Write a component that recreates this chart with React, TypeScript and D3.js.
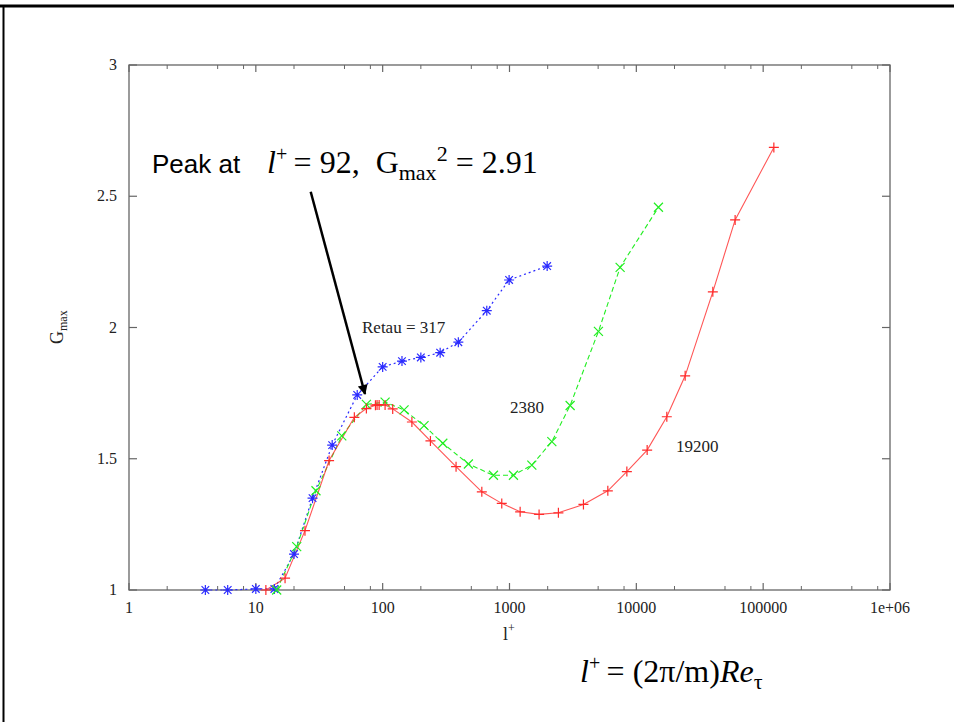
import React from "react";
import * as d3 from "d3";

// ---- data ----
const blueX = [4, 6, 10, 14, 20, 28, 40, 63, 100, 142, 200, 284, 395, 662, 993, 1981];
const blueG = [1.0, 1.0, 1.004, 1.004, 1.137, 1.35, 1.552, 1.743, 1.85, 1.872, 1.886, 1.904, 1.944, 2.064, 2.181, 2.234];

const greenX = [14.6, 21, 29.8, 47.6, 74.4, 104.5, 147.5, 212, 298, 474, 747, 1074, 1500, 2157, 3006, 5025, 7450, 14940];
const greenG = [1.0, 1.165, 1.378, 1.587, 1.707, 1.716, 1.686, 1.626, 1.559, 1.48, 1.437, 1.437, 1.476, 1.565, 1.703, 1.985, 2.229, 2.458];

const redX = [12, 17, 24.4, 37.8, 59.8, 74.4, 87.7, 90.3, 93.8, 104.5, 120, 170, 238, 379, 605, 869, 1213, 1711, 2430, 3828, 5960, 8420, 12170, 17390, 24260, 40100, 60100, 121400];
const redG = [1.0, 1.045, 1.226, 1.493, 1.658, 1.691, 1.704, 1.705, 1.705, 1.705, 1.69, 1.64, 1.568, 1.47, 1.374, 1.33, 1.298, 1.288, 1.294, 1.326, 1.378, 1.451, 1.533, 1.66, 1.816, 2.136, 2.41, 2.686];

const xTickValues = [1, 10, 100, 1000, 10000, 100000, 1000000];
const xTickLabels = ["1", "10", "100", "1000", "10000", "100000", "1e+06"];
const xMinorMult = [2, 5, 8];
const yTickValues = [1, 1.5, 2, 2.5, 3];
const yTickLabels = ["1", "1.5", "2", "2.5", "3"];

const seriesLabels = ["Retau = 317", "2380", "19200"];

const W = 954;
const H = 722;
const L = 129, R = 890, T = 65, B = 590;

const xs = d3.scaleLog().domain([1, 1e6]).range([L, R]);
const ys = d3.scaleLinear().domain([1, 3]).range([B, T]);

const serif = "Liberation Serif";
const sans = "Liberation Sans";

function toPts(xv: number[], yv: number[]) {
  return xv.map((x, i) => [xs(x), ys(yv[i])] as [number, number]);
}

const lineGen = d3.line<[number, number]>().x((d) => d[0]).y((d) => d[1]);

function Plus({ x, y, c }: { x: number; y: number; c: string }) {
  const s = 5;
  return <path d={`M${x - s},${y}H${x + s}M${x},${y - s}V${y + s}`} stroke={c} strokeWidth={1.2} />;
}
function Cross({ x, y, c }: { x: number; y: number; c: string }) {
  const s = 4.5;
  return <path d={`M${x - s},${y - s}L${x + s},${y + s}M${x - s},${y + s}L${x + s},${y - s}`} stroke={c} strokeWidth={1.2} />;
}
function Star({ x, y, c }: { x: number; y: number; c: string }) {
  const s = 5, d = 3.8;
  return (
    <path
      d={`M${x - s},${y}H${x + s}M${x},${y - s}V${y + s}M${x - d},${y - d}L${x + d},${y + d}M${x - d},${y + d}L${x + d},${y - d}`}
      stroke={c}
      strokeWidth={1.2}
    />
  );
}

export default function App() {
  const blue = toPts(blueX, blueG);
  const green = toPts(greenX, greenG);
  const red = toPts(redX, redG);

  const minorTicks: number[] = [];
  for (let e = 0; e < 6; e++) for (const m of xMinorMult) minorTicks.push(m * Math.pow(10, e));

  const frame = "#666";
  const blueC = "#2a2aff";
  const greenC = "#22ee22";
  const redC = "#ff2a2a";

  return (
    <svg width={W} height={H} style={{ position: "absolute", left: 0, top: 0, background: "#fff" }}>
      {/* slide border */}
      <line x1={0} x2={W} y1={6} y2={6} stroke="#000" strokeWidth={3} />
      <line x1={3.5} x2={3.5} y1={5} y2={H} stroke="#000" strokeWidth={2} />

      {/* frame */}
      <rect x={L} y={T} width={R - L} height={B - T} fill="none" stroke={frame} strokeWidth={1.3} />

      {/* x ticks */}
      {xTickValues.map((v, i) => (
        <g key={"xt" + i}>
          <line x1={xs(v)} x2={xs(v)} y1={B} y2={B - 7} stroke={frame} strokeWidth={1.2} />
          <line x1={xs(v)} x2={xs(v)} y1={T} y2={T + 7} stroke={frame} strokeWidth={1.2} />
          <text x={xs(v)} y={613} textAnchor="middle" fontFamily={serif} fontSize={16} fill="#222">
            {xTickLabels[i]}
          </text>
        </g>
      ))}
      {minorTicks.map((v, i) => (
        <g key={"xm" + i}>
          <line x1={xs(v)} x2={xs(v)} y1={B} y2={B - 4} stroke={frame} strokeWidth={1} />
          <line x1={xs(v)} x2={xs(v)} y1={T} y2={T + 4} stroke={frame} strokeWidth={1} />
        </g>
      ))}

      {/* y ticks */}
      {yTickValues.map((v, i) => (
        <g key={"yt" + i}>
          <line x1={L} x2={L + 8} y1={ys(v)} y2={ys(v)} stroke={frame} strokeWidth={1.2} />
          <line x1={R} x2={R - 8} y1={ys(v)} y2={ys(v)} stroke={frame} strokeWidth={1.2} />
          <text x={117} y={ys(v) + 5} textAnchor="end" fontFamily={serif} fontSize={16} fill="#222">
            {yTickLabels[i]}
          </text>
        </g>
      ))}

      {/* axis labels */}
      <text x={503} y={640} fontFamily={serif} fontSize={18} fill="#222">
        l<tspan dy={-8} fontSize={12}>+</tspan>
      </text>
      <text transform="translate(63,344) rotate(-90)" fontFamily={serif} fontSize={18} fill="#222">
        G<tspan dy={4} fontSize={12}>max</tspan>
      </text>

      {/* series lines */}
      <path d={lineGen(blue) || ""} fill="none" stroke={blueC} strokeWidth={1.2} strokeDasharray="2,3" />
      <path d={lineGen(green) || ""} fill="none" stroke={greenC} strokeWidth={1.1} strokeDasharray="5,3" />
      <path d={lineGen(red) || ""} fill="none" stroke={redC} strokeWidth={1.1} opacity={0.8} />

      {blue.map((p, i) => <Star key={"b" + i} x={p[0]} y={p[1]} c={blueC} />)}
      {green.map((p, i) => <Cross key={"g" + i} x={p[0]} y={p[1]} c={greenC} />)}
      {red.map((p, i) => <Plus key={"r" + i} x={p[0]} y={p[1]} c={redC} />)}

      {/* series labels */}
      <text x={362} y={333} fontFamily={serif} fontSize={17} fill="#222">{seriesLabels[0]}</text>
      <text x={510} y={413} fontFamily={serif} fontSize={17} fill="#222">{seriesLabels[1]}</text>
      <text x={676} y={452} fontFamily={serif} fontSize={17} fill="#222">{seriesLabels[2]}</text>

      {/* annotation */}
      <text x={152} y={173} fontFamily={sans} fontSize={26} fill="#000">Peak at</text>
      <text x={267} y={173} fontFamily={serif} fontSize={32} fill="#000">
        <tspan fontStyle="italic">l</tspan>
        <tspan dy={-12} fontSize={20}>+</tspan>
        <tspan dy={12}>{"\u2009= 92,\u00a0\u00a0G"}</tspan>
        <tspan dy={7} fontSize={22}>max</tspan>
        <tspan dy={-19} fontSize={22}>2</tspan>
        <tspan dy={12}>{" = 2.91"}</tspan>
      </text>
      <defs>
        <marker id="ah" viewBox="0 0 10 10" refX={9} refY={5} markerWidth={5} markerHeight={4} orient="auto" markerUnits="strokeWidth">
          <path d="M0,0L10,5L0,10z" fill="#000" />
        </marker>
      </defs>
      <line x1={310.7} y1={191.7} x2={365} y2={394} stroke="#000" strokeWidth={2.5} markerEnd="url(#ah)" />

      {/* equation */}
      <text x={580} y={682} fontFamily={serif} fontSize={32} fill="#000">
        <tspan fontStyle="italic">l</tspan>
        <tspan dy={-12} fontSize={20}>+</tspan>
        <tspan dy={12}>{"\u2009= (2\u03c0/m)"}</tspan>
        <tspan fontStyle="italic">Re</tspan>
        <tspan dy={7} fontSize={22}>{"\u03c4"}</tspan>
      </text>
    </svg>
  );
}
